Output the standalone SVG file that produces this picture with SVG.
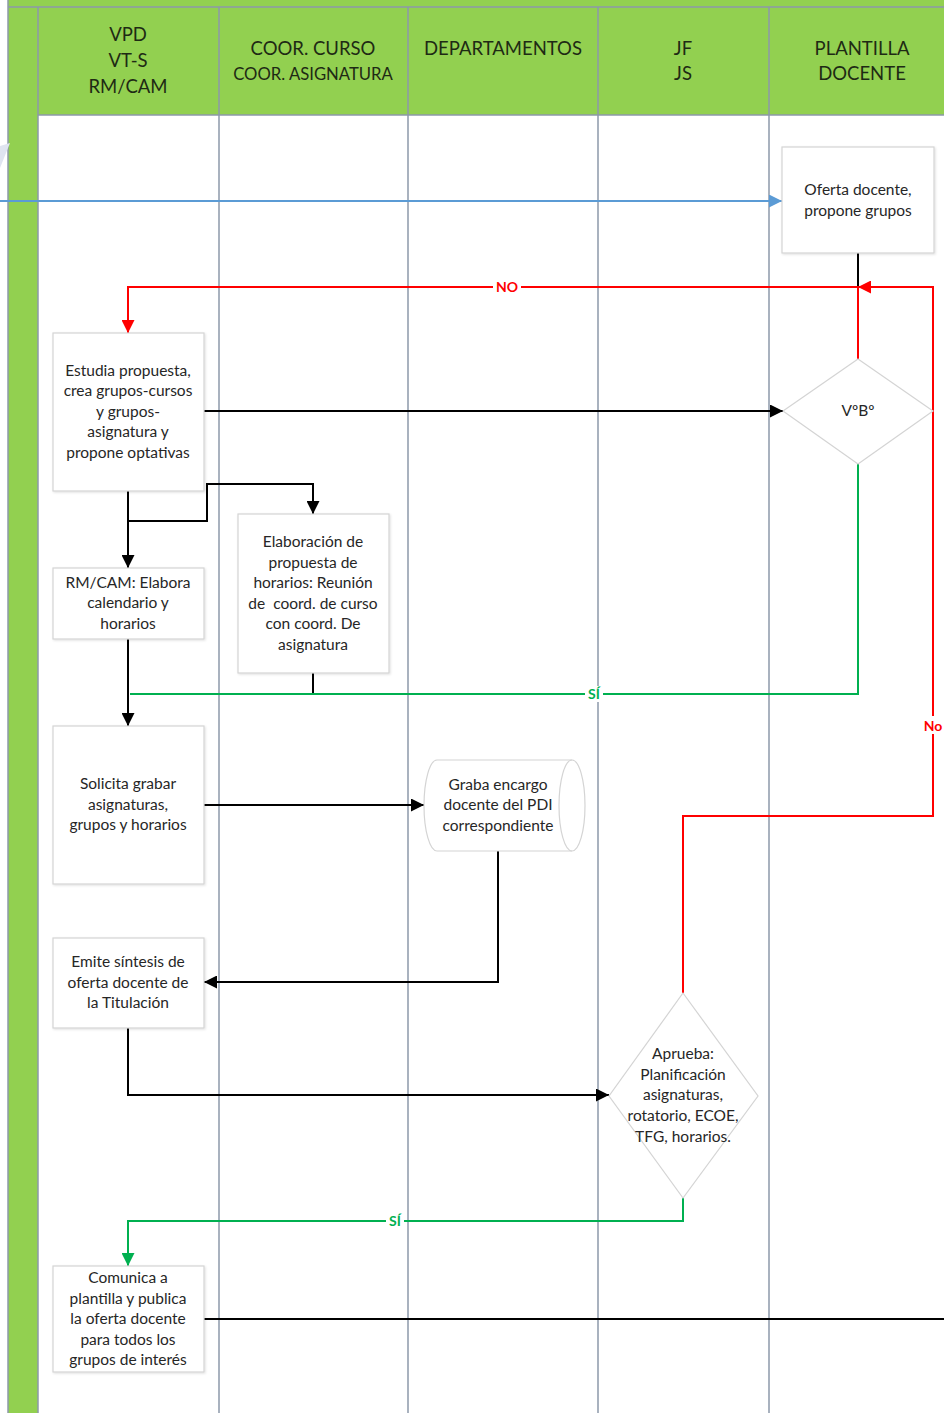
<svg xmlns="http://www.w3.org/2000/svg" width="944" height="1413" viewBox="0 0 944 1413">
<style>
.hdr{font-family:Lato,"Liberation Sans",sans-serif;fill:#1e2a14;text-anchor:middle}
.t{font-family:Lato,"Liberation Sans",sans-serif;font-size:15.5px;fill:#262626;text-anchor:middle}
.box{fill:#ffffff;stroke:#d4d4d4;stroke-width:1.2}
.lane{stroke:#8d98aa;stroke-width:1.5}
.c{fill:none;stroke-width:2}
.k{stroke:#000}
.r{stroke:#ff0000}
.g{stroke:#00b050}
.b{stroke:#5b9bd5}
.lbl{font-family:Lato,"Liberation Sans",sans-serif;font-size:14px;font-weight:bold;text-anchor:middle}
</style>
<defs>
<marker id="ak" viewBox="0 0 10 10" refX="10" refY="5" markerWidth="13" markerHeight="13" markerUnits="userSpaceOnUse" orient="auto"><path d="M0,0 L10,5 L0,10 Z" fill="#000"/></marker>
<marker id="ar" viewBox="0 0 10 10" refX="10" refY="5" markerWidth="13" markerHeight="13" markerUnits="userSpaceOnUse" orient="auto"><path d="M0,0 L10,5 L0,10 Z" fill="#ff0000"/></marker>
<marker id="ag" viewBox="0 0 10 10" refX="10" refY="5" markerWidth="13" markerHeight="13" markerUnits="userSpaceOnUse" orient="auto"><path d="M0,0 L10,5 L0,10 Z" fill="#00b050"/></marker>
<marker id="ab" viewBox="0 0 10 10" refX="10" refY="5" markerWidth="13" markerHeight="13" markerUnits="userSpaceOnUse" orient="auto"><path d="M0,0 L10,5 L0,10 Z" fill="#5b9bd5"/></marker>
<filter id="sh" x="-10%" y="-10%" width="120%" height="120%"><feDropShadow dx="1" dy="1" stdDeviation="1" flood-color="#000" flood-opacity="0.12"/></filter>
</defs>
<rect width="944" height="1413" fill="#ffffff"/>
<g id="pool">
<rect x="8" y="0" width="936" height="7" fill="#92d050"/>
<rect x="8" y="0" width="30" height="1413" fill="#92d050"/>
<rect x="38" y="7" width="906" height="108" fill="#92d050"/>
<line x1="8" y1="0" x2="8" y2="1413" class="lane"/>
<line x1="8" y1="7" x2="944" y2="7" class="lane"/>
<line x1="38" y1="115" x2="944" y2="115" class="lane"/>
<line x1="38" y1="7" x2="38" y2="1413" class="lane"/>
<line x1="219" y1="7" x2="219" y2="1413" class="lane"/>
<line x1="408" y1="7" x2="408" y2="1413" class="lane"/>
<line x1="598" y1="7" x2="598" y2="1413" class="lane"/>
<line x1="769" y1="7" x2="769" y2="1413" class="lane"/>
<polygon points="0,146 10,143 0,168" fill="#dfe4f0"/>
<text class="hdr" font-size="18.5"><tspan x="128" y="41">VPD</tspan><tspan x="128" y="67">VT-S</tspan><tspan x="128" y="93">RM/CAM</tspan></text>
<text class="hdr" font-size="18.5" x="313" y="55">COOR. CURSO</text>
<text class="hdr" font-size="16.7" x="313" y="80">COOR. ASIGNATURA</text>
<text class="hdr" font-size="18.5" x="503" y="55">DEPARTAMENTOS</text>
<text class="hdr" font-size="18.5"><tspan x="683" y="55">JF</tspan><tspan x="683" y="80">JS</tspan></text>
<text class="hdr" font-size="18.5"><tspan x="862" y="55">PLANTILLA</tspan><tspan x="862" y="80">DOCENTE</tspan></text>
</g>
<g id="connectors">
<path class="c b" d="M0,201 H782" marker-end="url(#ab)"/>
<path class="c k" d="M858,253 V287"/>
<path class="c r" d="M858,359 V287 H128 V333" marker-end="url(#ar)"/>
<path class="c r" d="M683,993 V816 H933 V287 H858" marker-end="url(#ar)"/>
<path class="c k" d="M204,411 H783" marker-end="url(#ak)"/>
<path class="c k" d="M128,491 V568" marker-end="url(#ak)"/>
<path class="c k" d="M128,521 H207 V484 H313 V514" marker-end="url(#ak)"/>
<path class="c k" d="M128,639 V726" marker-end="url(#ak)"/>
<path class="c k" d="M313,673 V694"/>
<path class="c g" d="M858,464 V694 H130"/>
<path class="c k" d="M204,805 H424" marker-end="url(#ak)"/>
<path class="c k" d="M498,851 V982 H204" marker-end="url(#ak)"/>
<path class="c k" d="M128,1028 V1095 H609" marker-end="url(#ak)"/>
<path class="c g" d="M683,1198 V1221 H128 V1266" marker-end="url(#ag)"/>
<path class="c k" d="M204,1319 H944"/>
<rect x="493" y="279" width="28" height="16" fill="#fff"/>
<text class="lbl" x="507" y="292" fill="#ff0000">NO</text>
<rect x="585" y="686" width="18" height="16" fill="#fff"/>
<text class="lbl" x="594" y="699" fill="#00b050">SÍ</text>
<rect x="924" y="716" width="20" height="18" fill="#fff"/>
<text class="lbl" x="933" y="731" fill="#ff0000" font-weight="normal">No</text>
<rect x="386" y="1213" width="18" height="16" fill="#fff"/>
<text class="lbl" x="395" y="1226" fill="#00b050" font-weight="normal">SÍ</text>
</g>
<g id="n-oferta">
<rect class="box" filter="url(#sh)" x="782" y="147" width="152" height="106"/>
<text class="t"><tspan x="858" y="195">Oferta docente,</tspan><tspan x="858" y="216">propone grupos</tspan></text>
</g>
<g id="n-vobo">
<polygon class="box" points="858,359 933,411 858,464 783,411"/>
<text class="t" x="858" y="416">VºBº</text>
</g>
<g id="n-estudia">
<rect class="box" filter="url(#sh)" x="53" y="333" width="151" height="158"/>
<text class="t"><tspan x="128" y="376">Estudia propuesta,</tspan><tspan x="128" y="396">crea grupos-cursos</tspan><tspan x="128" y="417">y grupos-</tspan><tspan x="128" y="437">asignatura y</tspan><tspan x="128" y="458">propone optativas</tspan></text>
</g>
<g id="n-rmcam">
<rect class="box" filter="url(#sh)" x="53" y="568" width="151" height="71"/>
<text class="t"><tspan x="128" y="588">RM/CAM: Elabora</tspan><tspan x="128" y="608">calendario y</tspan><tspan x="128" y="629">horarios</tspan></text>
</g>
<g id="n-elaboracion">
<rect class="box" filter="url(#sh)" x="238" y="514" width="151" height="159"/>
<text class="t" xml:space="preserve"><tspan x="313" y="547">Elaboración de</tspan><tspan x="313" y="568">propuesta de</tspan><tspan x="313" y="588">horarios: Reunión</tspan><tspan x="313" y="609">de  coord. de curso</tspan><tspan x="313" y="629">con coord. De</tspan><tspan x="313" y="650">asignatura</tspan></text>
</g>
<g id="n-solicita">
<rect class="box" filter="url(#sh)" x="53" y="726" width="151" height="158"/>
<text class="t"><tspan x="128" y="789">Solicita grabar</tspan><tspan x="128" y="810">asignaturas,</tspan><tspan x="128" y="830">grupos y horarios</tspan></text>
</g>
<g id="n-graba">
<path class="box" d="M437,760 H572 A13,45.5 0 0 1 572,851 H437 A13,45.5 0 0 1 437,760 Z"/>
<path fill="none" stroke="#d4d4d4" stroke-width="1.2" d="M572,760 A13,45.5 0 0 0 572,851"/>
<text class="t"><tspan x="498" y="790">Graba encargo</tspan><tspan x="498" y="810">docente del PDI</tspan><tspan x="498" y="831">correspondiente</tspan></text>
</g>
<g id="n-emite">
<rect class="box" filter="url(#sh)" x="53" y="938" width="151" height="90"/>
<text class="t"><tspan x="128" y="967">Emite síntesis de</tspan><tspan x="128" y="988">oferta docente de</tspan><tspan x="128" y="1008">la Titulación</tspan></text>
</g>
<g id="n-aprueba">
<polygon class="box" points="683,993 758,1096 683,1198 609,1096"/>
<text class="t"><tspan x="683" y="1059">Aprueba:</tspan><tspan x="683" y="1080">Planificación</tspan><tspan x="683" y="1100">asignaturas,</tspan><tspan x="683" y="1121">rotatorio, ECOE,</tspan><tspan x="683" y="1142">TFG, horarios.</tspan></text>
</g>
<g id="n-comunica">
<rect class="box" filter="url(#sh)" x="53" y="1266" width="151" height="106"/>
<text class="t"><tspan x="128" y="1283">Comunica a</tspan><tspan x="128" y="1304">plantilla y publica</tspan><tspan x="128" y="1324">la oferta docente</tspan><tspan x="128" y="1345">para todos los</tspan><tspan x="128" y="1365">grupos de interés</tspan></text>
</g>
</svg>
